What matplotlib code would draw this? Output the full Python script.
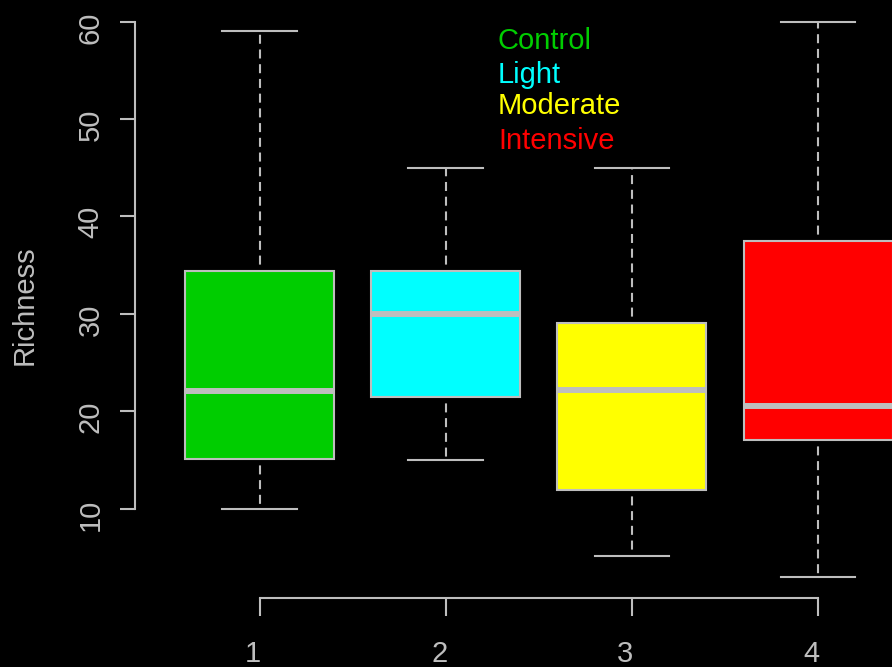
import matplotlib
matplotlib.use("Agg")
import matplotlib.pyplot as plt
from matplotlib.transforms import ScaledTranslation

# Richness summary per treatment (five-number summaries)
groups = ["1", "2", "3", "4"]
treatments = ["Control", "Light", "Moderate", "Intensive"]
colors = ["#00CD00", "#00FFFF", "#FFFF00", "#FF0000"]
whisker_low = [10.0, 15.0, 5.1, 3.0]
q1 = [15.05, 21.5, 11.9, 17.0]
median = [22.1, 30.0, 22.2, 20.5]
q3 = [34.4, 34.4, 29.0, 37.5]
whisker_high = [59.0, 45.0, 45.0, 60.0]
yticks = [10, 20, 30, 40, 50, 60]

FG = "#BEBEBE"
FS = 21
plt.rcParams["font.family"] = ["Liberation Sans", "DejaVu Sans"]
plt.rcParams["lines.scale_dashes"] = False

fig = plt.figure(figsize=(8.92, 6.67), dpi=100, facecolor="black")
ax = fig.add_axes([0, 0, 1, 1], facecolor="black")

stats = []
for i in range(len(groups)):
    stats.append(dict(whislo=whisker_low[i], q1=q1[i], med=median[i],
                      q3=q3[i], whishi=whisker_high[i], fliers=[],
                      label=groups[i]))

positions = list(range(1, len(groups) + 1))
bp = ax.bxp(stats, positions=positions, widths=0.8, patch_artist=True,
            showfliers=False, capwidths=0.4,
            boxprops=dict(edgecolor=FG, linewidth=1.5),
            medianprops=dict(color=FG, linewidth=4.3, solid_capstyle="butt"),
            whiskerprops=dict(color=FG, linewidth=1.5,
                              linestyle=(6.0, (6.5, 4.1))),
            capprops=dict(color=FG, linewidth=1.5))
for patch, c in zip(bp["boxes"], colors):
    patch.set_facecolor(c)

ax.set_xlim(-0.394, 4.397)
ax.set_ylim(-6.27, 62.21)

# R-style detached axes
for s in ["top", "right"]:
    ax.spines[s].set_visible(False)
ax.spines["left"].set_position(("data", 0.331))
ax.spines["left"].set_bounds(10, 60)
ax.spines["bottom"].set_position(("data", 0.81))
ax.spines["bottom"].set_bounds(1, 4)
for s in ["left", "bottom"]:
    ax.spines[s].set_color(FG)
    ax.spines[s].set_linewidth(1.5)

ax.set_yticks(yticks)
ax.set_yticklabels([str(v) for v in yticks], rotation=90, va="center")
ax.set_xticks(positions)
ax.set_xticklabels(groups)
ax.tick_params(axis="y", colors=FG, labelcolor=FG, length=11, width=1.5,
               pad=11, labelsize=FS)
ax.tick_params(axis="x", colors=FG, labelcolor=FG, length=13, width=1.5,
               pad=17.5, labelsize=FS)

# small nudge of tick labels along their axis
for lab in ax.get_yticklabels():
    lab.set_transform(lab.get_transform() + ScaledTranslation(0, -0.06, fig.dpi_scale_trans))
for lab in ax.get_xticklabels():
    lab.set_transform(lab.get_transform() + ScaledTranslation(-0.065, 0, fig.dpi_scale_trans))

ax.text(-0.26, 30.9, "Richness", rotation=90, color=FG, fontsize=FS,
        ha="center", va="center")

# Treatment legend as coloured text
baselines_px = [49.3, 83.3, 114.0, 149.3]
for name, c, ypx in zip(treatments, colors, baselines_px):
    fig.text(498 / 892, 1 - ypx / 667, name, color=c, fontsize=FS,
             ha="left", va="baseline")

fig.savefig("out.png", dpi=100, facecolor="black")
